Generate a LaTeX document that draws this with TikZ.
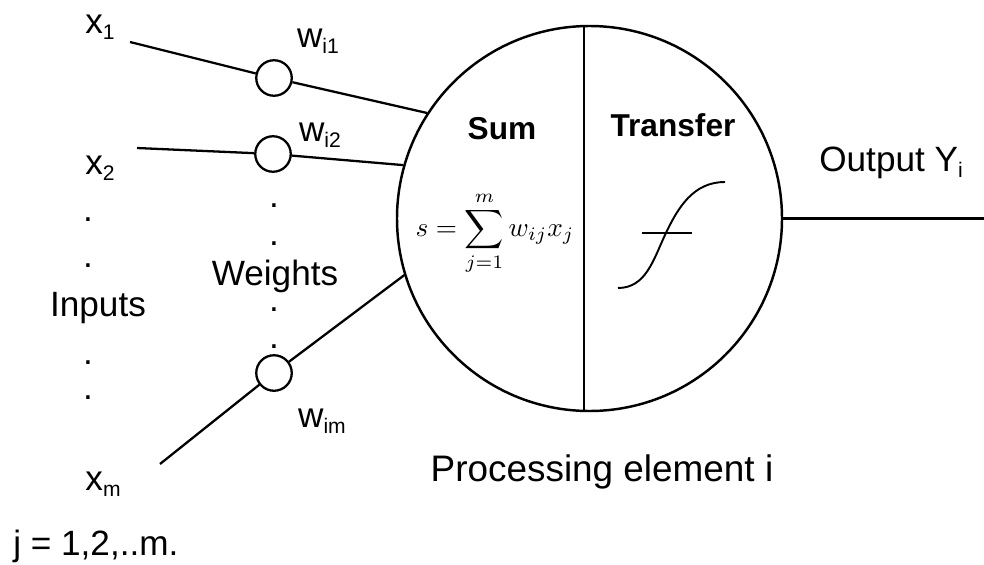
\documentclass[tikz,border=0pt]{standalone}
\usepackage{fontspec}
\setmainfont{Liberation Sans}
\usetikzlibrary{positioning}
\newcommand{\lowidx}[1]{\raisebox{-3.5pt}{\fontsize{12}{12}\selectfont #1}}

\begin{document}
\begin{tikzpicture}[
    x=0.2mm,y=-0.2mm,
    wire/.style={line width=1.3pt},
    weightnode/.style={circle,draw,line width=1.3pt,inner sep=0pt,
                       minimum size=7.1mm},
    penode/.style={circle,draw,line width=1.4pt,inner sep=0pt,
                   minimum size=77mm},
    lbl/.style={font=\fontsize{20}{24}\selectfont,inner sep=0pt},
    boldlbl/.style={font=\fontsize{18}{22}\selectfont\bfseries,inner sep=0pt},
    mathlbl/.style={inner sep=0pt,scale=1.55}
  ]
  \useasboundingbox (0,0) rectangle (984,565);

  % processing element
  \node[penode] (pe) at (589.5,218.5) {};
  \draw[wire] ([xshift=-1.1mm]pe.north) -- ([xshift=-1.1mm]pe.south);
  \node[boldlbl] (sum) at (502,128.5) {Sum};
  \node[boldlbl] (transfer) at (673,125.5) {Transfer};
  \node[mathlbl] (formula) at (495,233.5)
    {$\displaystyle s=\sum_{j=1}^{m} w_{ij}x_j$};
  % transfer curve
  \draw[line width=1.1pt] (642,233) -- (692,233);
  \draw[line width=1.1pt] (618,288) to[out=0,in=-115] (665,235)
    to[out=65,in=180] (725,182);

  % inputs
  \node[lbl] (x1) at (100,27) {x\lowidx{1}};
  \node[lbl] (x2) at (100,168.5) {x\lowidx{2}};
  \node[lbl] (xm) at (103,484) {x\lowidx{m}};
  \node[lbl] (inputs) at (98,308) {Inputs};
  \foreach \y [count=\k] in {220,266,363,398}
    \node[lbl] (idot\k) at (88,\y) {.};
  \node[lbl,anchor=west] (jrange) at (13,546) {j = 1,2,..m.};

  % weights
  \node[weightnode] (w1) at (274,78) {};
  \node[weightnode] (w2) at (273,154) {};
  \node[weightnode] (wm) at (274,373) {};
  \node[lbl] (lw1) at (318,41) {w\lowidx{i1}};
  \node[lbl] (lw2) at (320,135.5) {w\lowidx{i2}};
  \node[lbl] (lwm) at (322,421) {w\lowidx{im}};
  \node[lbl] (weights) at (275,276) {Weights};
  \foreach \y [count=\k] in {206,244,310,347}
    \node[lbl] (wdot\k) at (274,\y) {.};

  % connections
  \coordinate (in1) at (130,42);
  \coordinate (in2) at (137,148);
  \coordinate (inm) at (160,464);
  \coordinate (out) at (984,218.5);
  \draw[wire] (in1) -- (w1) -- (pe.147.7);
  \draw[wire] (in2) -- (w2) -- (pe.164.6);
  \draw[wire] (inm) -- (wm) -- (pe.197.3);
  \draw[wire] (pe.east) -- (out);

  % output and caption
  \node[lbl,anchor=west] (output) at (819,163) {Output Y\lowidx{i}};
  \node[lbl,font=\fontsize{21}{25}\selectfont] (caption) at (602,472)
    {Processing element i};
\end{tikzpicture}
\end{document}
